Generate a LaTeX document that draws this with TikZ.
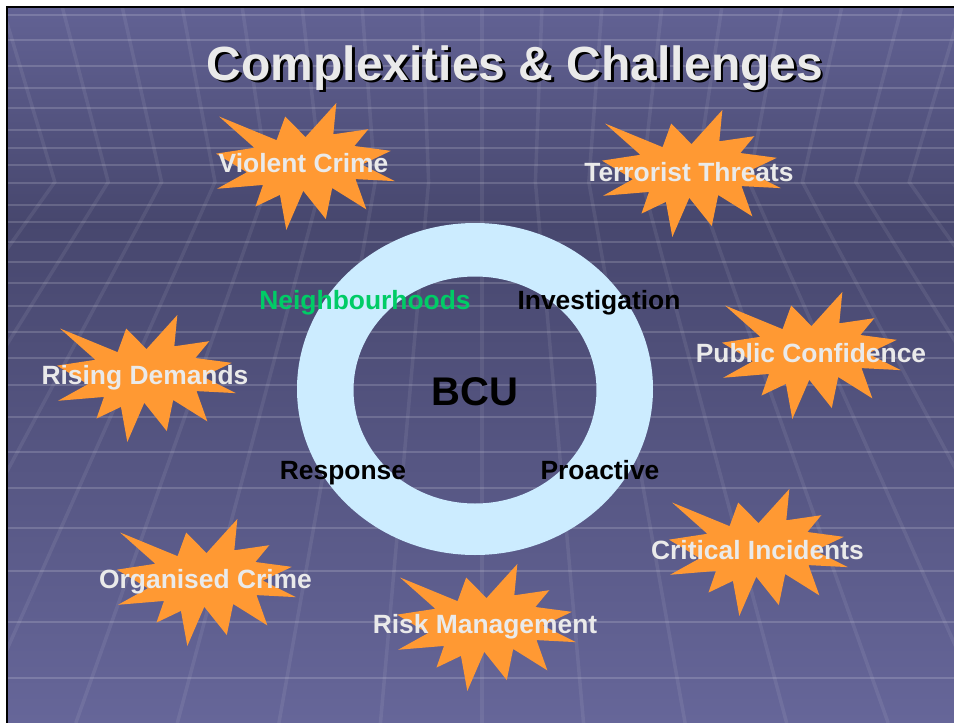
\documentclass[tikz,border=0pt]{standalone}
\usepackage{fontspec}
\setmainfont{Liberation Sans}
\definecolor{bgtop}{HTML}{626294}
\definecolor{bgmid}{HTML}{47476E}
\definecolor{bgbot}{HTML}{666699}
\definecolor{burstcol}{HTML}{FF9933}
\definecolor{lblgray}{HTML}{EAEAEA}
\definecolor{ringcol}{HTML}{CCECFF}
\definecolor{nbgreen}{HTML}{00CC66}
\newcommand{\mkburst}[2]{%
  \fill[burstcol, shift={(#1,#2)}, xscale=179, yscale=127]
    (0.5,0.2685) -- (0.6723,0) -- (0.6553,0.2465) -- (0.8509,0.2063) --
    (0.7732,0.3387) -- (0.9767,0.3767) -- (0.8151,0.4850) -- (1,0.6153) --
    (0.7795,0.5992) -- (0.8400,0.8377) -- (0.6491,0.6693) -- (0.6133,0.9138) --
    (0.4876,0.6914) -- (0.3928,1) -- (0.3572,0.7235) -- (0.2205,0.8156) --
    (0.2624,0.6452) -- (0.00625,0.6753) -- (0.1723,0.5451) -- (0,0.3988) --
    (0.2142,0.3526) -- (0.0171,0.1063) -- (0.3385,0.2926) -- (0.3867,0.1063) -- cycle;}
\newcommand{\shadowtext}[1]{\rlap{\hspace{2.5pt}\raisebox{-2.5pt}{\color{black}#1}}#1}
\begin{document}
\begin{tikzpicture}[x=1pt,y=-1pt,
  lbl/.style={font=\bfseries\fontsize{26.4}{30}\selectfont, text=lblgray, inner sep=0pt, anchor=base},
  ringlbl/.style={font=\bfseries\fontsize{26.4}{30}\selectfont, text=black, inner sep=0pt, anchor=base},
  titlefont/.style={font=\bfseries\fontsize{48}{52}\selectfont, inner sep=0pt, anchor=base},
  hline/.style={draw=white, draw opacity=0.16, line width=2pt},
  dline/.style={draw=white, draw opacity=0.075, line width=3.5pt}]
\useasboundingbox (0,0) rectangle (954,723);
\fill[white] (0,0) rectangle (954,723);
% slide background
\begin{scope}
\clip (7,7) rectangle (954,723);
\shade[top color=bgtop, bottom color=bgmid] (7,7) rectangle (954,221);
\shade[top color=bgmid, bottom color=bgbot] (7,220) rectangle (954,723);
\foreach \yy in {15,40,66,88,108,130,148,165,183,205,222,242,262,283,306,332,358,385,417,452,488,528,571,622,678}
  \draw[hline] (7,\yy) -- (954,\yy);
\foreach \k in {-9,...,9} {
  \pgfmathsetmacro\xo{482+53.4*\k}
  \pgfmathsetmacro\xt{\xo+(\xo-482)/1423*175}
  \pgfmathsetmacro\xb{\xo+(\xo-482)/600*541}
  \draw[dline] (\xt,7) -- (\xo,182) -- (\xb,723);
}
\end{scope}
\draw[black, line width=2pt] (7,723) -- (7,7) -- (954,7);
% ring
\fill[ringcol, even odd rule] (475,389) ellipse [x radius=178pt, y radius=166pt]
  (475,390) ellipse [x radius=121.5pt, y radius=113.5pt];
% bursts
\mkburst{216}{103}
\mkburst{602}{110}
\mkburst{57}{315}
\mkburst{722}{292}
\mkburst{117}{519}
\mkburst{669}{489}
\mkburst{397}{564}
% title
\node[titlefont, text=lblgray] (title) at (515,80) {\shadowtext{Complexities \& Challenges}};
% burst labels
\node[lbl] (violent) at (303.5,172) {Violent Crime};
\node[lbl] (terror) at (689,181) {Terrorist Threats};
\node[lbl] (rising) at (145,384) {Rising Demands};
\node[lbl] (public) at (811,362) {Public Confidence};
\node[lbl] (organised) at (205.5,588) {Organised Crime};
\node[lbl] (critical) at (757.5,559) {Critical Incidents};
\node[lbl] (risk) at (485,633) {Risk Management};
% ring labels
\node[ringlbl, text=nbgreen] (neigh) at (365,309) {Neighbourhoods};
\node[ringlbl] (invest) at (599,309) {Investigation};
\node[ringlbl] (resp) at (343,479) {Response};
\node[ringlbl] (proact) at (600,479) {Proactive};
\node[font=\bfseries\fontsize{40}{44}\selectfont, inner sep=0pt, anchor=base] (bcu) at (475,405) {BCU};
\end{tikzpicture}
\end{document}
